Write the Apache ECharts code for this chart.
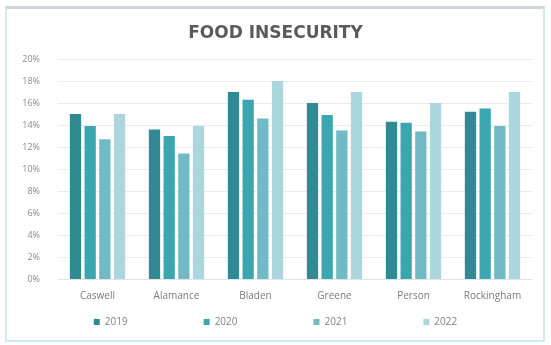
<!DOCTYPE html>
<html><head><meta charset="utf-8">
<script src="https://cdn.jsdelivr.net/npm/echarts@6/dist/echarts.min.js"></script>
<style>html,body{margin:0;padding:0;background:#fff}#frame{position:absolute;left:5px;top:6px;width:536px;height:331px;border:2px solid #d4ebee;border-top:3px solid #cfd8d8}#c{position:absolute;left:0;top:0;width:551px;height:345px}</style>
</head><body><div id="frame"></div><div id="c"></div>
<script>
var categories = ['Caswell','Alamance','Bladen','Greene','Person','Rockingham'];
var years = ['2019','2020','2021','2022'];
var v2019 = [15.0, 13.6, 17.0, 16.0, 14.3, 15.2];
var v2020 = [13.9, 13.0, 16.3, 14.9, 14.2, 15.5];
var v2021 = [12.7, 11.4, 14.6, 13.5, 13.4, 13.9];
var v2022 = [15.0, 13.9, 18.0, 17.0, 16.0, 17.0];
var yTicks = [0,2,4,6,8,10,12,14,16,18,20];
var colors = ['#2f8a93','#3aa6b0','#72b9c6','#acd6dd'];
var all = [v2019, v2020, v2021, v2022];
var chart = echarts.init(document.getElementById('c'));
chart.setOption({
  animation: false,
  title: {text: 'FOOD INSECURITY', left: 'center', top: 20, textStyle: {fontFamily: 'DejaVu Sans', fontWeight: 'bold', fontSize: 17, color: '#5a5a5a'}},
  legend: {bottom: 13, left: 'center', itemGap: 76, itemWidth: 6, itemHeight: 6, icon: 'rect', textStyle: {fontFamily: 'Open Sans', fontSize: 10, color: '#808080'}, data: years},
  grid: {left: 58, right: 19, top: 59, bottom: 66},
  xAxis: {type: 'category', data: categories, axisLine: {lineStyle: {color: '#e3e3e3'}}, axisTick: {show: false}, axisLabel: {fontFamily: 'Open Sans', fontSize: 10, color: '#7a7a7a', margin: 12}},
  yAxis: {type: 'value', min: 0, max: 20, interval: 2, axisLabel: {formatter: '{value}%', fontFamily: 'Open Sans', fontSize: 9, color: '#8a8a8a', margin: 18}, splitLine: {lineStyle: {color: '#ececec'}}, axisLine: {show: false}, axisTick: {show: false}},
  series: years.map(function(y, i){ return {name: y, type: 'bar', data: all[i], barGap: '30%', barCategoryGap: '30%', itemStyle: {color: colors[i]}}; })
});
</script></body></html>
